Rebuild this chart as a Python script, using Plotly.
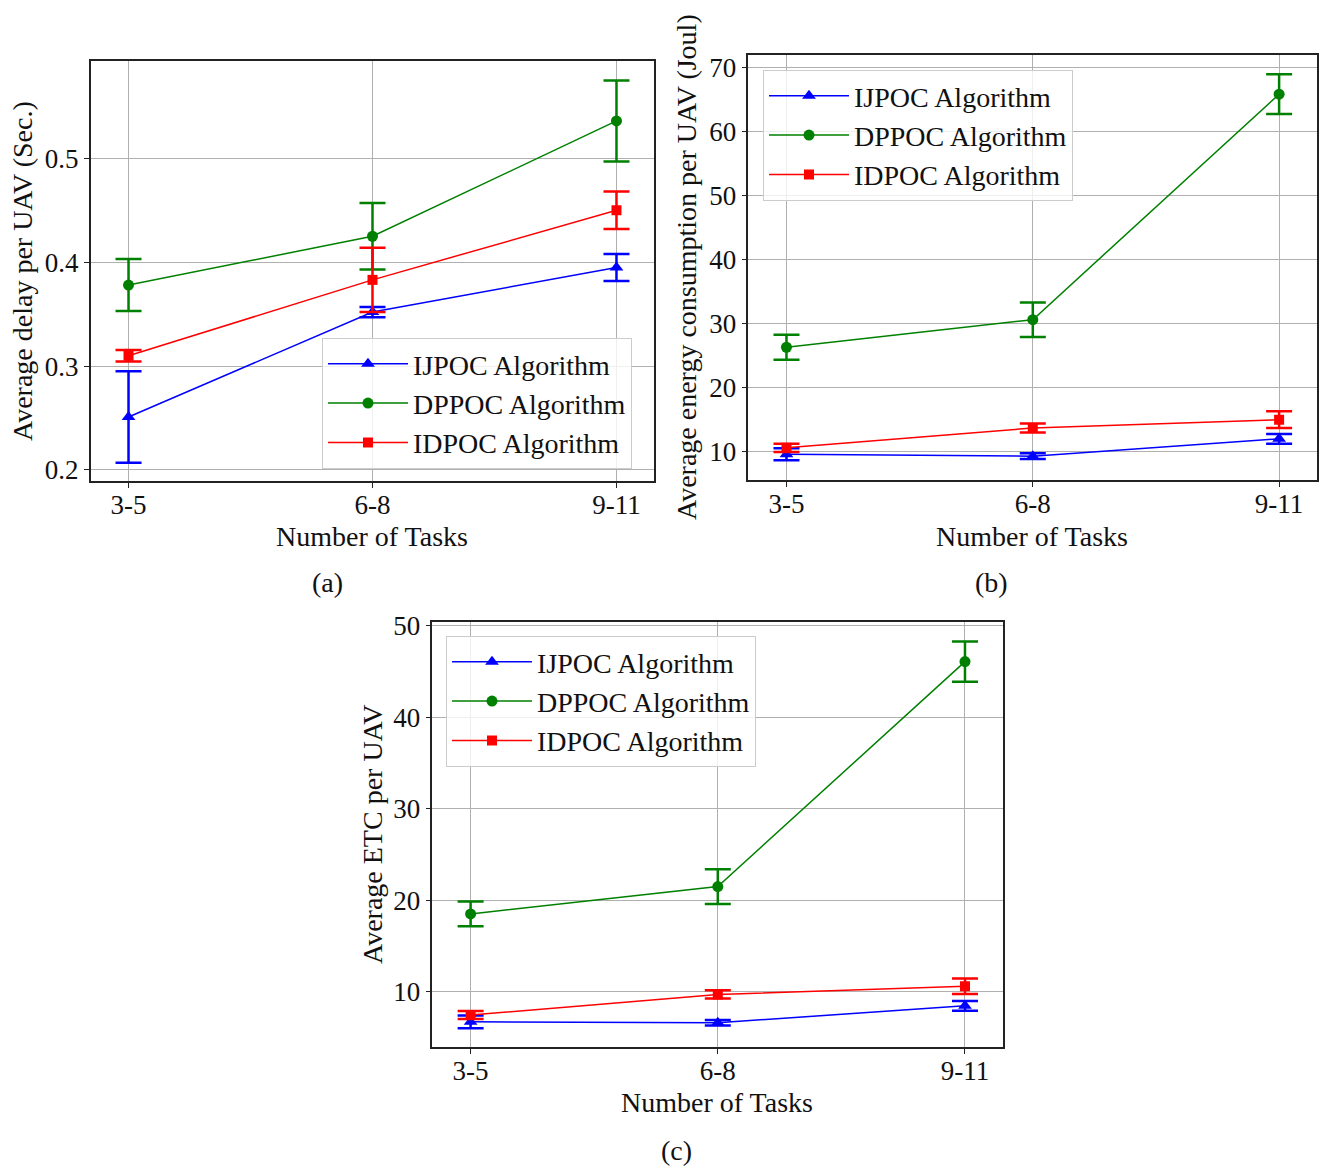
import plotly.graph_objects as go

categories = ["3-5", "6-8", "9-11"]
series_names = ["IJPOC Algorithm", "DPPOC Algorithm", "IDPOC Algorithm"]

# (a) Average delay per UAV (Sec.)
delay_ijpoc = [0.251, 0.352, 0.395]
delay_ijpoc_err = [0.044, 0.005, 0.013]
delay_dppoc = [0.378, 0.425, 0.536]
delay_dppoc_err = [0.025, 0.032, 0.039]
delay_idpoc = [0.310, 0.383, 0.450]
delay_idpoc_err = [0.0055, 0.031, 0.018]

# (b) Average energy consumption per UAV (Joul)
energy_ijpoc = [9.6, 9.3, 12.0]
energy_ijpoc_err = [0.95, 0.45, 0.75]
energy_dppoc = [26.3, 30.6, 65.8]
energy_dppoc_err = [1.95, 2.7, 3.1]
energy_idpoc = [10.6, 13.7, 15.0]
energy_idpoc_err = [0.65, 0.7, 1.3]

# (c) Average ETC per UAV
etc_ijpoc = [6.7, 6.6, 8.45]
etc_ijpoc_err = [0.7, 0.3, 0.53]
etc_dppoc = [18.5, 21.5, 46.1]
etc_dppoc_err = [1.35, 1.9, 2.2]
etc_idpoc = [7.45, 9.7, 10.6]
etc_idpoc_err = [0.45, 0.45, 0.85]

colors = ["#0000ff", "#008000", "#ff0000"]
symbols = ["triangle-up", "circle", "square"]
marker_sizes = [12, 11, 10]
FONT = "Liberation Serif, Times New Roman, serif"

W, H = 1320, 1168

def px_x(x):
    return x / W

def px_y(y):
    return 1 - y / H

fig = go.Figure()

panels = [
    dict(vals=[delay_ijpoc, delay_dppoc, delay_idpoc],
         errs=[delay_ijpoc_err, delay_dppoc_err, delay_idpoc_err],
         xa="x", ya="y", legend="legend"),
    dict(vals=[energy_ijpoc, energy_dppoc, energy_idpoc],
         errs=[energy_ijpoc_err, energy_dppoc_err, energy_idpoc_err],
         xa="x2", ya="y2", legend="legend2"),
    dict(vals=[etc_ijpoc, etc_dppoc, etc_idpoc],
         errs=[etc_ijpoc_err, etc_dppoc_err, etc_idpoc_err],
         xa="x3", ya="y3", legend="legend3"),
]

for p in panels:
    for name, v, e, c, s, ms in zip(series_names, p["vals"], p["errs"], colors, symbols, marker_sizes):
        fig.add_trace(go.Scatter(
            x=categories, y=v, name=name, mode="lines+markers",
            line=dict(color=c, width=1.5),
            marker=dict(color=c, symbol=s, size=ms),
            error_y=dict(type="data", array=e, visible=True, color=c,
                         thickness=2.5, width=13),
            xaxis=p["xa"], yaxis=p["ya"], legend=p["legend"],
        ))

# domains (pixel boxes)
boxes = {
    "1": (90.7, 654.3, 61, 481),
    "2": (748.3, 1317.3, 55, 480),
    "3": (432.3, 1003.3, 622.3, 1047),
}
yranges = {"1": [0.1894, 0.5937], "2": [5.58, 71.92], "3": [3.95, 50.4]}
ytickvals = {"1": [0.2, 0.3, 0.4, 0.5], "2": [10, 20, 30, 40, 50, 60, 70],
             "3": [10, 20, 30, 40, 50]}
yticktext = {"1": ["0.2", "0.3", "0.4", "0.5"],
             "2": ["10", "20", "30", "40", "50", "60", "70"],
             "3": ["10", "20", "30", "40", "50"]}

axis_common = dict(
    showline=True, mirror=True, linecolor="#222222", linewidth=1.5,
    ticks="outside", ticklen=5, tickcolor="#222222", tickwidth=1.2,
    showgrid=True, gridcolor="#b0b0b0", gridwidth=1, zeroline=False,
    tickfont=dict(family=FONT, size=27, color="#111111"),
)

layout = dict(
    width=W, height=H,
    margin=dict(l=0, r=0, t=0, b=0, pad=0, autoexpand=False),
    paper_bgcolor="white", plot_bgcolor="white",
    font=dict(family=FONT, size=27, color="#111111"),
)
for k, (x0, x1, y0, y1) in boxes.items():
    suffix = "" if k == "1" else k
    layout["xaxis" + suffix] = dict(
        axis_common, domain=[px_x(x0), px_x(x1)], type="category",
        range=[-0.155, 2.155], anchor="y" + suffix, ticklabelstandoff=-6,
    )
    layout["yaxis" + suffix] = dict(
        axis_common, domain=[px_y(y1), px_y(y0)], range=yranges[k],
        tickvals=ytickvals[k], ticktext=yticktext[k], anchor="x" + suffix,
    )

legend_common = dict(
    bgcolor="rgba(255,255,255,0.8)", bordercolor="#cccccc", borderwidth=1,
    font=dict(family=FONT, size=28, color="#111111"),
    xanchor="left", yanchor="top", xref="paper", yref="paper",
    itemwidth=80,
)
layout["legend"] = dict(legend_common, x=px_x(322), y=px_y(338))
layout["legend2"] = dict(legend_common, x=px_x(763), y=px_y(70))
layout["legend3"] = dict(legend_common, x=px_x(446), y=px_y(636))

fig.update_layout(**layout)

ann_font = dict(family=FONT, size=28, color="#111111")
annotations = [
    # x-axis titles
    dict(text="Number of Tasks", x=px_x(372), y=px_y(536)),
    dict(text="Number of Tasks", x=px_x(1032), y=px_y(536)),
    dict(text="Number of Tasks", x=px_x(717), y=px_y(1102)),
    # y-axis titles
    dict(text="Average delay per UAV (Sec.)", x=px_x(22), y=px_y(271), textangle=-90),
    dict(text="Average energy consumption per UAV (Joul)", x=px_x(687), y=px_y(267), textangle=-90),
    dict(text="Average ETC per UAV", x=px_x(372), y=px_y(835), textangle=-90),
    # captions
    dict(text="(a)", x=px_x(327), y=px_y(582)),
    dict(text="(b)", x=px_x(991), y=px_y(582)),
    dict(text="(c)", x=px_x(676), y=px_y(1150)),
]
for a in annotations:
    fig.add_annotation(xref="paper", yref="paper", showarrow=False,
                       xanchor="center", yanchor="middle", font=ann_font, **a)

fig.write_html("out.html")
